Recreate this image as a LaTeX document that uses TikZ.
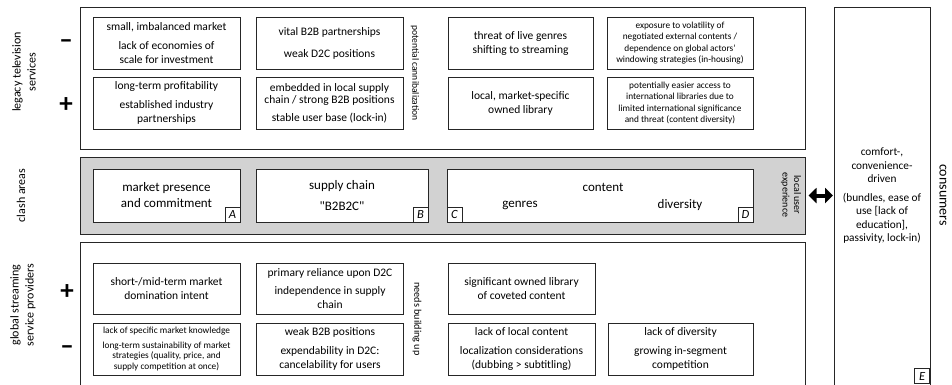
\documentclass[tikz,border=0pt]{standalone}
\usepackage{fontspec}
\setmainfont{Carlito}
\usepackage{tikz}
\usetikzlibrary{arrows.meta}
\tikzset{
  panel/.style={draw=black!85, line width=1pt},
  cell/.style={draw=black!85, fill=white, line width=0.9pt, align=center, inner sep=1pt,
    minimum height=52pt, minimum width=#1, font=\fontsize{11.5}{14}\selectfont},
  cell/.default=147pt,
  small/.style={font=\fontsize{9.3}{11.5}\selectfont},
  big/.style={font=\fontsize{13}{16}\selectfont},
  tag/.style={draw=black!85, fill=white, line width=0.8pt, inner sep=0pt, minimum size=15pt,
    font=\itshape\fontsize{12.5}{12.5}\selectfont},
  sidelabel/.style={rotate=90, align=center, font=\fontsize{12}{15}\selectfont},
  vnote/.style={rotate=-90, align=center, font=\fontsize{9.6}{11}\selectfont},
  sign/.style={font=\bfseries\fontsize{27}{27}\selectfont, inner sep=0pt},
  fatarrow/.style={{Triangle[length=8pt,width=15pt]}-{Triangle[length=8pt,width=15pt]},
    line width=4pt, shorten <=3pt, shorten >=1pt},
}
\begin{document}
\begin{tikzpicture}[x=1pt, y=-1pt]
  \clip (0,0) rectangle (952,384);
  % legacy television services
  \node[panel, minimum width=725pt, minimum height=142pt] (legacy) at (442.5,78) {};
  \node[cell] (t1m) at (166.5,43) {small, imbalanced market\\[5pt] lack of economies of\\ scale for investment};
  \node[cell] (t2m) at (329.5,43) {vital B2B partnerships\\[8pt] weak D2C positions};
  \node[cell=145pt] (t3m) at (520.5,43) {threat of live genres\\ shifting to streaming};
  \node[cell=146pt, small] (t4m) at (680,43) {exposure to volatility of\\ negotiated external contents /\\ dependence on global actors’\\ windowing strategies (in-housing)};
  \node[cell] (t1p) at (166.5,103) {long-term profitability\\[5pt] established industry\\ partnerships};
  \node[cell] (t2p) at (329.5,103) {embedded in local supply\\[-2pt] chain / strong B2B positions\\[4pt] stable user base (lock-in)};
  \node[cell=145pt] (t3p) at (520.5,103) {local, market-specific\\ owned library};
  \node[cell=146pt, small] (t4p) at (680,103) {potentially easier access to\\ international libraries due to\\ limited international significance\\ and threat (content diversity)};
  \node[vnote] (cannib) at (415,73) {potential cannibalization};
  % clash areas
  \node[panel, fill=gray!35, minimum width=725pt, minimum height=77pt] (clash) at (442.5,195.5) {};
  \node[cell, big, minimum height=53pt] (ca) at (166.5,195.5) {market presence\\ and commitment};
  \node[cell=172pt, big, minimum height=53pt] (cb) at (342,195.5) {supply chain\\[5pt] {\addfontfeature{Ligatures=TeXOff}"B2B2C"}};
  \node[cell=306pt, minimum height=53pt] (cc) at (600,195.5) {};
  \node[big] (content) at (603,187) {content};
  \node[big] (genres) at (520,205) {genres};
  \node[big] (diversity) at (680,205) {diversity};
  \node[tag, anchor=south east] (tA) at (ca.south east) {A};
  \node[tag, anchor=south east] (tB) at (cb.south east) {B};
  \node[tag, anchor=south west] (tC) at (cc.south west) {C};
  \node[tag, anchor=south east] (tD) at (cc.south east) {D};
  \node[vnote, font=\fontsize{10}{11.5}\selectfont] (lue) at (791,195) {local user\\ experience};
  % global streaming service providers
  \node[panel, minimum width=725pt, minimum height=150pt, anchor=north west] (global) at (80,242) {};
  \node[cell, minimum height=51pt] (g1p) at (166.5,288.5) {short-/mid-term market\\ domination intent};
  \node[cell, minimum height=51pt] (g2p) at (330,288.5) {primary reliance upon D2C\\[4pt] independence in supply\\ chain};
  \node[cell, minimum height=51pt] (g3p) at (521.5,288.5) {significant owned library\\ of coveted content};
  \node[cell, small] (g1m) at (166.5,349) {lack of specific market knowledge\\[3pt] long-term sustainability of market\\[-1pt] strategies (quality, price, and\\[-1pt] supply competition at once)};
  \node[cell] (g2m) at (330,349) {weak B2B positions\\[5pt] expendability in D2C:\\ cancelability for users};
  \node[cell] (g3m) at (521.5,349) {lack of local content\\[5pt] localization considerations\\ (dubbing > subtitling)};
  \node[cell=145pt] (g4m) at (680.5,349) {lack of diversity\\[5pt] growing in-segment\\ competition};
  \node[vnote, font=\fontsize{10.2}{11}\selectfont] (building) at (417,319) {needs building up};
  % consumers
  \node[panel, minimum width=96pt, minimum height=400pt, anchor=north west] (cons) at (834,7) {};
  \node[align=center, font=\fontsize{11.3}{13.5}\selectfont] (constext) at (882,196) {comfort-,\\ convenience-\\ driven\\[5pt] (bundles, ease of\\ use [lack of\\ education],\\ passivity, lock-in)};
  \coordinate (consbottom) at (930,384);
  \node[tag, anchor=south east] (tE) at (consbottom) {E};
  \node[rotate=-90, font=\fontsize{14}{14}\selectfont] (consumers) at (943,195) {consumers};
  \draw[fatarrow] (clash.east) -- (clash.east -| cons.west);
  % side labels
  \node[sidelabel] (lblLegacy) at (24,72) {legacy television\\ services};
  \node[sidelabel] (lblClash) at (21,195.5) {clash areas};
  \node[sidelabel] (lblGlobal) at (23,305) {global streaming\\ service providers};
  \node[sign] (mTop) at (66,44) {–};
  \node[sign] (pTop) at (66,105) {+};
  \node[sign] (pBot) at (67,292) {+};
  \node[sign] (mBot) at (67,350) {–};
\end{tikzpicture}
\end{document}
